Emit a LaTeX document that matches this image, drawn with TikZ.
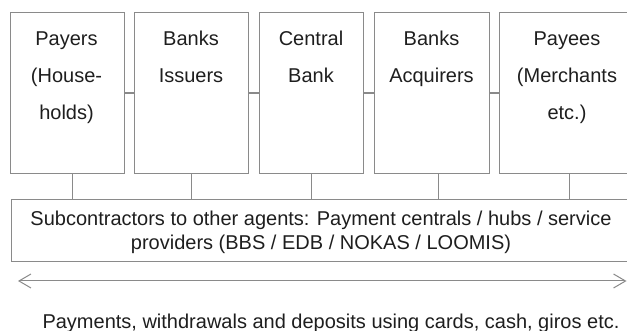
\documentclass[tikz,border=0pt]{standalone}
\usepackage{fontspec}
\setmainfont{Liberation Sans}
\usetikzlibrary{arrows.meta,calc}
\definecolor{linegray}{HTML}{8A8A8A}
\definecolor{txt}{HTML}{1E1E1E}
\begin{document}
\begin{tikzpicture}[x=1pt,y=-1pt,
  agent/.style={draw=linegray, line width=1.2pt, minimum width=#1, minimum height=161pt, inner sep=0pt, anchor=north west},
  subbox/.style={draw=linegray, line width=1.2pt, minimum width=620pt, minimum height=62pt, inner sep=0pt, anchor=north west},
  lbl/.style={text=txt, align=center, anchor=base, inner sep=0pt, font=\fontsize{20}{37}\selectfont},
  sublbl/.style={text=txt, align=center, anchor=base, inner sep=0pt, font=\fontsize{20}{24.5}\selectfont},
  conn/.style={draw=linegray, line width=1.2pt},
  flow/.style={draw=linegray, line width=1pt, {Straight Barb[length=12pt,width=14pt]}-{Straight Barb[length=12pt,width=14pt]}}]
\useasboundingbox (0,0) rectangle (627,331);
\clip (0,0) rectangle (627,331);
% agent boxes
\node[agent=113.5pt] (b1) at (10,12) {};
\node[agent=114pt] (b2) at (134,12) {};
\node[agent=104pt] (b3) at (259,12) {};
\node[agent=115pt] (b4) at (374,12) {};
\node[agent=136pt] (b5) at (499,12) {};
% texts (anchor base = baseline of last line)
\node[lbl] (t1) at (66.5,120) {Payers\\(House-\\holds)};
\node[lbl] (t2) at (191,83) {Banks\\Issuers};
\node[lbl] (t3) at (311,83) {Central\\Bank};
\node[lbl] (t4) at (431.5,83) {Banks\\Acquirers};
\node[lbl] (t5) at (567,120) {Payees\\(Merchants\\etc.)};
% subcontractors
\node[subbox] (sub) at (11,199) {};
\node[sublbl] (st) at (321,250) {Subcontractors to other agents: Payment centrals / hubs / service\\providers (BBS / EDB / NOKAS / LOOMIS)};
% horizontal connectors
\draw[conn] (b1.east) -- (b2.west);
\draw[conn] (b2.east) -- (b3.west);
\draw[conn] (b3.east) -- (b4.west);
\draw[conn] (b4.east) -- (b5.west);
% vertical connectors
\draw[conn] ([xshift=5.5pt]b1.south) coordinate (v1) -- (v1 |- sub.north);
\draw[conn] (b2.south) coordinate (v2) -- (v2 |- sub.north);
\draw[conn] (b3.south) coordinate (v3) -- (v3 |- sub.north);
\draw[conn] ([xshift=6.5pt]b4.south) coordinate (v4) -- (v4 |- sub.north);
\draw[conn] ([xshift=2pt]b5.south) coordinate (v5) -- (v5 |- sub.north);
% flow arrow
\coordinate (aL) at (18,281);
\coordinate (aR) at (626.5,281);
\draw[flow] (aL) -- (aR);
\node[lbl] (bt) at (331,328) {Payments, withdrawals and deposits using cards, cash, giros etc.};
\end{tikzpicture}
\end{document}
